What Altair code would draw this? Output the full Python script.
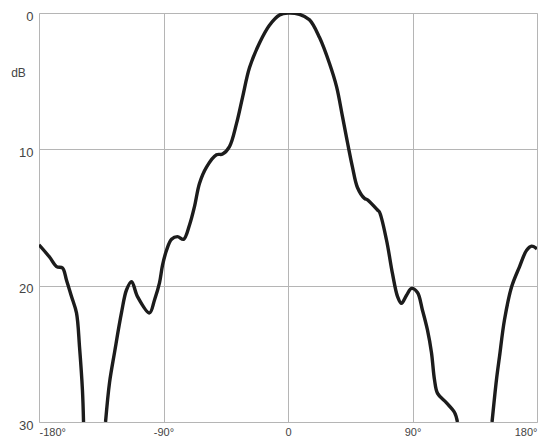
import altair as alt
import pandas as pd

# Segment A (left lobe, -180 .. null)
angle_a = [-180.0, -172.4, -167.3, -163.0, -160.1, -156.5, -152.9, -150.7, -148.6, -147.8]
db_a = [17.0, 17.9, 18.6, 18.7, 19.6, 20.8, 22.0, 24.5, 27.65, 30.0]

# Segment B (main lobe)
angle_b = [-131.9, -129.0, -125.4, -120.4, -116.7, -113.1, -108.8, -100.1, -96.5, -92.9,
           -90.7, -87.8, -84.2, -79.9, -75.5, -71.2, -67.6, -64.0, -58.9, -51.7,
           -47.3, -42.3, -37.2, -32.9, -27.8, -20.6, -13.4, -6.1, 0.0, 8.3,
           15.5, 22.8, 30.0, 35.1, 39.4, 43.0, 46.6, 50.2, 55.3, 57.5,
           64.7, 66.1, 71.2, 75.5, 79.2, 82.0, 85.7, 89.3, 93.6, 97.2,
           100.8, 103.7, 105.9, 108.1, 114.6, 120.4, 122.5]
db_b = [30.0, 27.1, 24.9, 22.0, 20.3, 19.7, 20.8, 22.0, 21.05, 19.8,
        18.5, 17.4, 16.6, 16.4, 16.6, 15.55, 14.2, 12.5, 11.3, 10.4,
        10.35, 9.8, 8.1, 6.2, 4.0, 2.2, 0.9, 0.15, 0.0, 0.1,
        0.5, 1.8, 3.7, 5.4, 7.6, 9.5, 11.3, 12.8, 13.6, 13.7,
        14.45, 14.6, 16.65, 19.1, 20.8, 21.3, 20.7, 20.2, 20.5, 21.8,
        23.25, 24.9, 26.9, 27.9, 28.6, 29.3, 30.0]

# Segment C (right lobe, null .. 180)
angle_c = [147.5, 150.7, 152.9, 156.5, 161.6, 167.4, 172.5, 176.1, 180.0]
db_c = [30.0, 26.9, 25.2, 22.5, 20.1, 18.6, 17.4, 17.1, 17.3]

x_ticks = [-180, -90, 0, 90, 180]
y_ticks = [0, 10, 20, 30]

rows = []
for seg, (angs, dbs) in enumerate([(angle_a, db_a), (angle_b, db_b), (angle_c, db_c)]):
    for i, (a, d) in enumerate(zip(angs, dbs)):
        rows.append({"angle": a, "db": d, "seg": seg, "order": i})
df = pd.DataFrame(rows)

font = "Liberation Sans"

chart = alt.Chart(df).mark_line(
    color="#1c1c1c", strokeWidth=3.4, interpolate="catmull-rom", clip=True
).encode(
    x=alt.X("angle:Q",
            scale=alt.Scale(domain=[-180, 180], nice=False, zero=False),
            axis=alt.Axis(values=x_ticks, title=None, grid=True, ticks=False, domain=False,
                          labelPadding=4, labelFontSize=11, labelColor="#444",
                          labelFont=font, gridColor="#b5b5b5", gridWidth=1,
                          labelExpr="datum.value == 0 ? '0' : datum.value + '°'")),
    y=alt.Y("db:Q",
            scale=alt.Scale(domain=[0, 30], reverse=True, nice=False),
            axis=alt.Axis(values=y_ticks, title="dB", grid=True, ticks=False, domain=False,
                          labelPadding=6, labelFontSize=13, labelColor="#444",
                          labelOffset=3, labelBound=False, labelFlush=False,
                          labelFont=font, gridColor="#b5b5b5", gridWidth=1,
                          titleAngle=0, titleX=-21, titleY=59, titleAlign="center",
                          titleBaseline="middle", titleFont=font, titleFontSize=12,
                          titleFontWeight="normal", titleColor="#444")),
    detail="seg:N",
    order="order:Q",
).properties(
    width=498,
    height=409,
    autosize=alt.AutoSizeParams(type="none"),
    padding={"left": 31, "top": 5, "right": 8, "bottom": 18},
).configure_view(
    stroke="#555", strokeWidth=1.5
).configure(background="white")

chart.save("out.html", embed_options={"renderer": "svg", "actions": False})
